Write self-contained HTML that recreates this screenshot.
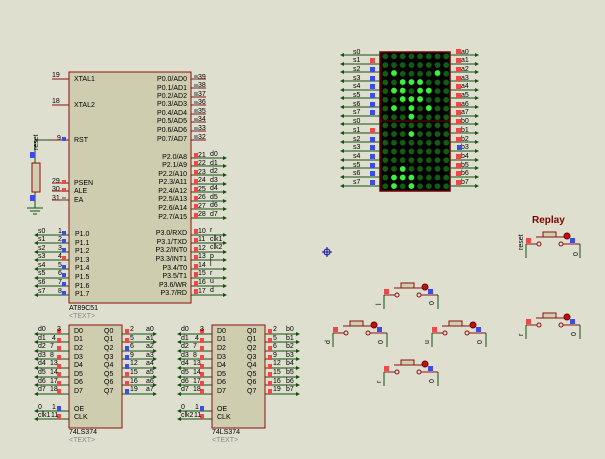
<!DOCTYPE html>
<html><head><meta charset="utf-8"><style>
html,body{margin:0;padding:0;background:#dfdfcf;}
svg{display:block;font-family:"Liberation Sans",sans-serif;}
.t{font-size:7px;fill:#000;}
.g{stroke:#105010;stroke-width:1;fill:none}
.a line{stroke:#105010;stroke-width:1;marker-end:url(#ar)}
.p{stroke:#8b1010;stroke-width:1;fill:none}
.rs{fill:#f04848}.bs{fill:#3c4ce8}.gs{fill:#909090}
</style></head><body>
<svg width="605" height="459" viewBox="0 0 605 459" xmlns="http://www.w3.org/2000/svg">
<defs>
<marker id="ar" markerWidth="4" markerHeight="4" refX="3" refY="2" orient="auto" markerUnits="userSpaceOnUse"><path d="M0,0L4,2L0,4z" fill="#105010"/></marker>
<g id="btn">
<rect x="-7" y="-12" width="13" height="5" fill="#d0cdb0" stroke="#8b1010"/>
<line x1="-14" y1="-7" x2="14" y2="-7" class="p"/>
<circle cx="-11" cy="0" r="2" fill="#dfdfcf" stroke="#8b1010"/>
<circle cx="11" cy="0" r="2" fill="#dfdfcf" stroke="#8b1010"/>
<line x1="-13" y1="0" x2="-24" y2="0" class="p"/>
<line x1="13" y1="0" x2="30" y2="0" class="p"/>
<line x1="-24" y1="0" x2="-24" y2="14" class="g"/>
<line x1="30" y1="0" x2="30" y2="14" class="g"/>
<circle cx="17" cy="-8" r="3" fill="#c01010" stroke="#700000"/>
<rect x="-24" y="-6" width="5" height="5" class="rs"/>
<rect x="20" y="-6" width="5" height="5" class="bs"/>
</g>
<pattern id="dp" x="381" y="52" width="8.7" height="8.7" patternUnits="userSpaceOnUse"><circle cx="4.3" cy="4.3" r="2.9" fill="#145c14"/></pattern>
<pattern id="dp2" x="381" y="121" width="8.7" height="8.7" patternUnits="userSpaceOnUse"><circle cx="4.3" cy="4.3" r="2.9" fill="#145c14"/></pattern>
</defs>

<!-- MCU -->
<rect x="69" y="72" width="122" height="231" fill="#cfcdb0" stroke="#8b1010"/>
<g class="t">
<text x="74" y="81">XTAL1</text><text x="74" y="107">XTAL2</text><text x="74" y="142">RST</text>
<text x="74" y="185">PSEN</text><text x="74" y="193">ALE</text><text x="74" y="202">EA</text>
<text x="75" y="236">P1.0</text><text x="75" y="245">P1.1</text><text x="75" y="253">P1.2</text><text x="75" y="262">P1.3</text><text x="75" y="270">P1.4</text><text x="75" y="279">P1.5</text><text x="75" y="288">P1.6</text><text x="75" y="296">P1.7</text>
<text x="52" y="77">19</text><text x="52" y="103">18</text><text x="57" y="140">9</text><text x="52" y="183">29</text><text x="52" y="191">30</text><text x="52" y="200">31</text>
<text x="58" y="233">1</text><text x="58" y="241">2</text><text x="58" y="250">3</text><text x="58" y="258">4</text><text x="58" y="267">5</text><text x="58" y="275">6</text><text x="58" y="284">7</text><text x="58" y="293">8</text>
<text x="38" y="233">s0</text><text x="38" y="241">s1</text><text x="38" y="250">s2</text><text x="38" y="258">s3</text><text x="38" y="267">s4</text><text x="38" y="275">s5</text><text x="38" y="284">s6</text><text x="38" y="293">s7</text>
<g text-anchor="end">
<text x="187" y="81">P0.0/AD0</text><text x="187" y="90">P0.1/AD1</text><text x="187" y="98">P0.2/AD2</text><text x="187" y="106">P0.3/AD3</text><text x="187" y="115">P0.4/AD4</text><text x="187" y="123">P0.5/AD5</text><text x="187" y="132">P0.6/AD6</text><text x="187" y="141">P0.7/AD7</text>
<text x="187" y="159">P2.0/A8</text><text x="187" y="167">P2.1/A9</text><text x="187" y="176">P2.2/A10</text><text x="187" y="184">P2.3/A11</text><text x="187" y="193">P2.4/A12</text><text x="187" y="201">P2.5/A13</text><text x="187" y="210">P2.6/A14</text><text x="187" y="219">P2.7/A15</text>
<text x="187" y="235">P3.0/RXD</text><text x="187" y="244">P3.1/TXD</text><text x="187" y="252">P3.2/INT0</text><text x="187" y="261">P3.3/INT1</text><text x="187" y="270">P3.4/T0</text><text x="187" y="278">P3.5/T1</text><text x="187" y="287">P3.6/WR</text><text x="187" y="295">P3.7/RD</text>
</g>
<text x="198" y="79">39</text><text x="198" y="87">38</text><text x="198" y="96">37</text><text x="198" y="104">36</text><text x="198" y="113">35</text><text x="198" y="121">34</text><text x="198" y="130">33</text><text x="198" y="139">32</text>
<text x="198" y="157">21</text><text x="198" y="165">22</text><text x="198" y="174">23</text><text x="198" y="182">24</text><text x="198" y="191">25</text><text x="198" y="199">26</text><text x="198" y="208">27</text><text x="198" y="216">28</text>
<text x="210" y="156">d0</text><text x="210" y="165">d1</text><text x="210" y="173">d2</text><text x="210" y="182">d3</text><text x="210" y="190">d4</text><text x="210" y="199">d5</text><text x="210" y="207">d6</text><text x="210" y="216">d7</text>
<text x="198" y="233">10</text><text x="198" y="241">11</text><text x="198" y="250">12</text><text x="198" y="258">13</text><text x="198" y="267">14</text><text x="198" y="275">15</text><text x="198" y="284">16</text><text x="198" y="293">17</text>
<text x="210" y="232">r</text><text x="210" y="241">clk1</text><text x="210" y="249">clk2</text><text x="210" y="258">p</text><text x="210" y="266">l</text><text x="210" y="275">r</text><text x="210" y="283">u</text><text x="210" y="292">d</text>
<text x="69" y="310">AT89C51</text><text x="69" y="318" fill="#888">&lt;TEXT&gt;</text>
</g>
<g class="p">
<path d="M52 79H69M52 105H69M52 183H69M52 191H69M52 200H69M52 140H69"/>
<path d="M191 79H206M191 88H206M191 97H206M191 105H206M191 114H206M191 122H206M191 131H206M191 140H206"/>
</g>
<g class="g">
<path d="M35 140H52"/><path d="M35 140V163M35 192V208M27 208H43M30 211H40M33 214H37"/>
</g>
<g class="a">
<line x1="69" y1="235" x2="35" y2="235"/><line x1="69" y1="243" x2="35" y2="243"/><line x1="69" y1="252" x2="35" y2="252"/><line x1="69" y1="260" x2="35" y2="260"/><line x1="69" y1="269" x2="35" y2="269"/><line x1="69" y1="278" x2="35" y2="278"/><line x1="69" y1="286" x2="35" y2="286"/><line x1="69" y1="295" x2="35" y2="295"/>
<line x1="191" y1="158" x2="226" y2="158"/><line x1="191" y1="166" x2="226" y2="166"/><line x1="191" y1="175" x2="226" y2="175"/><line x1="191" y1="184" x2="226" y2="184"/><line x1="191" y1="192" x2="226" y2="192"/><line x1="191" y1="201" x2="226" y2="201"/><line x1="191" y1="209" x2="226" y2="209"/><line x1="191" y1="218" x2="226" y2="218"/>
<line x1="191" y1="235" x2="226" y2="235"/><line x1="191" y1="243" x2="226" y2="243"/><line x1="191" y1="252" x2="226" y2="252"/><line x1="191" y1="260" x2="226" y2="260"/><line x1="191" y1="269" x2="226" y2="269"/><line x1="191" y1="278" x2="226" y2="278"/><line x1="191" y1="286" x2="226" y2="286"/><line x1="191" y1="295" x2="226" y2="295"/>
</g>
<rect x="32" y="163" width="8" height="29" fill="#d0cdb0" stroke="#8b1010"/>
<text x="38" y="150" class="t" transform="rotate(-90 38 150)">reset</text>
<rect x="30" y="152" width="5" height="6" class="bs"/><rect x="30" y="195" width="5" height="6" class="bs"/>
<g class="bs"><rect x="62" y="137" width="4" height="4"/><rect x="62" y="231" width="4" height="4"/><rect x="62" y="239" width="4" height="4"/><rect x="62" y="248" width="4" height="4"/><rect x="62" y="265" width="4" height="4"/><rect x="62" y="273" width="4" height="4"/><rect x="62" y="282" width="4" height="4"/><rect x="62" y="291" width="4" height="4"/></g>
<rect x="62" y="256" width="4" height="4" class="rs"/><rect x="62" y="180" width="4" height="4" class="rs"/><rect x="62" y="188" width="4" height="4" class="rs"/><rect x="62" y="197" width="4" height="4" class="gs"/>
<g class="gs"><rect x="194" y="75" width="4" height="5"/><rect x="194" y="84" width="4" height="5"/><rect x="194" y="92" width="4" height="5"/><rect x="194" y="101" width="4" height="5"/><rect x="194" y="109" width="4" height="5"/><rect x="194" y="118" width="4" height="5"/><rect x="194" y="127" width="4" height="5"/><rect x="194" y="135" width="4" height="5"/></g>
<g class="rs"><rect x="194" y="153" width="4" height="5"/><rect x="194" y="161" width="4" height="5"/><rect x="194" y="170" width="4" height="5"/><rect x="194" y="179" width="4" height="5"/><rect x="194" y="187" width="4" height="5"/><rect x="194" y="196" width="4" height="5"/><rect x="194" y="204" width="4" height="5"/><rect x="194" y="213" width="4" height="5"/>
<rect x="194" y="229" width="4" height="5"/><rect x="194" y="238" width="4" height="5"/><rect x="194" y="247" width="4" height="5"/><rect x="194" y="255" width="4" height="5"/><rect x="194" y="264" width="4" height="5"/><rect x="194" y="272" width="4" height="5"/><rect x="194" y="281" width="4" height="5"/><rect x="194" y="289" width="4" height="5"/></g>

<!-- Matrix -->
<rect x="380" y="52" width="70" height="139" fill="#000" stroke="#700000" stroke-width="1.5"/>
<rect x="381" y="52" width="69" height="69" fill="url(#dp)"/>
<rect x="381" y="121" width="69" height="69" fill="url(#dp2)"/>
<line x1="380" y1="121" x2="450" y2="121" stroke="#700000"/>
<g fill="#3cf03c">
<circle cx="394" cy="73" r="2.9"/><circle cx="437.5" cy="73" r="2.9"/>
<circle cx="402.7" cy="82" r="2.9"/><circle cx="411.4" cy="82" r="2.9"/><circle cx="420.1" cy="82" r="2.9"/>
<circle cx="394" cy="90.5" r="2.9"/><circle cx="402.7" cy="90.5" r="2.9"/><circle cx="420.1" cy="90.5" r="2.9"/><circle cx="428.8" cy="90.5" r="2.9"/>
<circle cx="402.7" cy="99" r="2.9"/><circle cx="411.4" cy="99" r="2.9"/><circle cx="420.1" cy="99" r="2.9"/>
<circle cx="394" cy="108" r="2.9"/><circle cx="411.4" cy="108" r="2.9"/><circle cx="428.8" cy="108" r="2.9"/>
<circle cx="411.4" cy="116.5" r="2.9"/>
<circle cx="411.4" cy="134" r="2.9"/>
<circle cx="402.7" cy="169" r="2.9"/>
<circle cx="394" cy="177.5" r="2.9"/><circle cx="402.7" cy="177.5" r="2.9"/><circle cx="411.4" cy="177.5" r="2.9"/>
<circle cx="394" cy="186" r="2.9"/><circle cx="411.4" cy="186" r="2.9"/>
</g>
<g class="a">
<line x1="380" y1="55" x2="341" y2="55"/><line x1="380" y1="64" x2="341" y2="64"/><line x1="380" y1="72" x2="341" y2="72"/><line x1="380" y1="81" x2="341" y2="81"/><line x1="380" y1="90" x2="341" y2="90"/><line x1="380" y1="98" x2="341" y2="98"/><line x1="380" y1="107" x2="341" y2="107"/><line x1="380" y1="116" x2="341" y2="116"/>
<line x1="380" y1="124" x2="341" y2="124"/><line x1="380" y1="133" x2="341" y2="133"/><line x1="380" y1="142" x2="341" y2="142"/><line x1="380" y1="151" x2="341" y2="151"/><line x1="380" y1="160" x2="341" y2="160"/><line x1="380" y1="168" x2="341" y2="168"/><line x1="380" y1="177" x2="341" y2="177"/><line x1="380" y1="186" x2="341" y2="186"/>
<line x1="450" y1="55" x2="478" y2="55"/><line x1="450" y1="64" x2="478" y2="64"/><line x1="450" y1="72" x2="478" y2="72"/><line x1="450" y1="81" x2="478" y2="81"/><line x1="450" y1="90" x2="478" y2="90"/><line x1="450" y1="98" x2="478" y2="98"/><line x1="450" y1="107" x2="478" y2="107"/><line x1="450" y1="116" x2="478" y2="116"/>
<line x1="450" y1="124" x2="478" y2="124"/><line x1="450" y1="133" x2="478" y2="133"/><line x1="450" y1="142" x2="478" y2="142"/><line x1="450" y1="151" x2="478" y2="151"/><line x1="450" y1="160" x2="478" y2="160"/><line x1="450" y1="168" x2="478" y2="168"/><line x1="450" y1="177" x2="478" y2="177"/><line x1="450" y1="186" x2="478" y2="186"/>
</g>
<g class="t">
<text x="353" y="54">s0</text><text x="353" y="62">s1</text><text x="353" y="71">s2</text><text x="353" y="80">s3</text><text x="353" y="88">s4</text><text x="353" y="97">s5</text><text x="353" y="106">s6</text><text x="353" y="114">s7</text>
<text x="353" y="123">s0</text><text x="353" y="132">s1</text><text x="353" y="141">s2</text><text x="353" y="149">s3</text><text x="353" y="158">s4</text><text x="353" y="167">s5</text><text x="353" y="175">s6</text><text x="353" y="184">s7</text>
<text x="461" y="54">a0</text><text x="461" y="62">a1</text><text x="461" y="71">a2</text><text x="461" y="80">a3</text><text x="461" y="88">a4</text><text x="461" y="97">a5</text><text x="461" y="106">a6</text><text x="461" y="114">a7</text>
<text x="461" y="123">b0</text><text x="461" y="132">b1</text><text x="461" y="141">b2</text><text x="461" y="149">b3</text><text x="461" y="158">b4</text><text x="461" y="167">b5</text><text x="461" y="175">b6</text><text x="461" y="184">b7</text>
</g>
<g class="bs"><rect x="370" y="67" width="5" height="5"/><rect x="370" y="76" width="5" height="5"/><rect x="370" y="84" width="5" height="5"/><rect x="370" y="93" width="5" height="5"/><rect x="370" y="102" width="5" height="5"/><rect x="370" y="110" width="5" height="5"/>
<rect x="370" y="137" width="5" height="5"/><rect x="370" y="145" width="5" height="5"/><rect x="370" y="154" width="5" height="5"/><rect x="370" y="163" width="5" height="5"/><rect x="370" y="171" width="5" height="5"/><rect x="370" y="180" width="5" height="5"/><rect x="457" y="145" width="5" height="5"/></g>
<g class="rs"><rect x="370" y="58" width="5" height="5"/><rect x="370" y="128" width="5" height="5"/>
<rect x="456" y="49" width="5" height="5"/><rect x="456" y="58" width="5" height="5"/><rect x="456" y="67" width="5" height="5"/><rect x="456" y="76" width="5" height="5"/><rect x="456" y="84" width="5" height="5"/><rect x="456" y="93" width="5" height="5"/><rect x="456" y="102" width="5" height="5"/><rect x="456" y="110" width="5" height="5"/>
<rect x="456" y="119" width="5" height="5"/><rect x="456" y="128" width="5" height="5"/><rect x="456" y="137" width="5" height="5"/><rect x="456" y="154" width="5" height="5"/><rect x="456" y="163" width="5" height="5"/><rect x="456" y="171" width="5" height="5"/><rect x="456" y="180" width="5" height="5"/></g>

<!-- Latches -->
<g id="latch">
<rect x="69" y="325" width="53" height="103" fill="#cfcdb0" stroke="#8b1010"/>
<g class="a">
<line x1="69" y1="334" x2="35" y2="334"/><line x1="69" y1="342" x2="35" y2="342"/><line x1="69" y1="351" x2="35" y2="351"/><line x1="69" y1="359" x2="35" y2="359"/><line x1="69" y1="368" x2="35" y2="368"/><line x1="69" y1="377" x2="35" y2="377"/><line x1="69" y1="385" x2="35" y2="385"/><line x1="69" y1="394" x2="35" y2="394"/><line x1="69" y1="411" x2="35" y2="411"/><line x1="69" y1="419" x2="35" y2="419"/>
<line x1="122" y1="334" x2="156" y2="334"/><line x1="122" y1="342" x2="156" y2="342"/><line x1="122" y1="351" x2="156" y2="351"/><line x1="122" y1="359" x2="156" y2="359"/><line x1="122" y1="368" x2="156" y2="368"/><line x1="122" y1="377" x2="156" y2="377"/><line x1="122" y1="385" x2="156" y2="385"/><line x1="122" y1="394" x2="156" y2="394"/>
</g>
<g class="rs"><rect x="57" y="329" width="4" height="5"/><rect x="57" y="338" width="4" height="5"/><rect x="57" y="346" width="4" height="5"/><rect x="57" y="355" width="4" height="5"/><rect x="57" y="364" width="4" height="5"/><rect x="57" y="372" width="4" height="5"/><rect x="57" y="381" width="4" height="5"/><rect x="57" y="389" width="4" height="5"/><rect x="57" y="414" width="4" height="5"/>
<rect x="125" y="329" width="4" height="5"/><rect x="125" y="338" width="4" height="5"/><rect x="125" y="372" width="4" height="5"/><rect x="125" y="381" width="4" height="5"/></g>
<rect x="57" y="406" width="4" height="5" class="bs"/>
</g>
<g class="bs"><rect x="125" y="346" width="4" height="5"/><rect x="125" y="355" width="4" height="5"/><rect x="125" y="364" width="4" height="5"/><rect x="125" y="389" width="4" height="5"/></g>
<use href="#latch" x="143"/>
<g class="rs"><rect x="268" y="346" width="4" height="5"/><rect x="268" y="355" width="4" height="5"/><rect x="268" y="364" width="4" height="5"/><rect x="268" y="389" width="4" height="5"/></g>
<g class="t">
<text x="74" y="333">D0</text><text x="74" y="341">D1</text><text x="74" y="350">D2</text><text x="74" y="359">D3</text><text x="74" y="367">D4</text><text x="74" y="376">D5</text><text x="74" y="384">D6</text><text x="74" y="393">D7</text><text x="74" y="411">OE</text><text x="74" y="419">CLK</text>
<text x="104" y="333">Q0</text><text x="104" y="341">Q1</text><text x="104" y="350">Q2</text><text x="104" y="359">Q3</text><text x="104" y="367">Q4</text><text x="104" y="376">Q5</text><text x="104" y="384">Q6</text><text x="104" y="393">Q7</text>
<text x="38" y="331">d0</text><text x="38" y="340">d1</text><text x="38" y="348">d2</text><text x="38" y="357">d3</text><text x="38" y="365">d4</text><text x="38" y="374">d5</text><text x="38" y="383">d6</text><text x="38" y="391">d7</text><text x="38" y="409">0</text><text x="38" y="417">clk1</text>
<text x="57" y="331">3</text><text x="52" y="340">4</text><text x="50" y="348">7</text><text x="50" y="357">8</text><text x="50" y="365">13</text><text x="50" y="374">14</text><text x="50" y="383">17</text><text x="50" y="391">18</text><text x="52" y="409">1</text><text x="51" y="417">11</text>
<text x="130" y="331">2</text><text x="130" y="340">5</text><text x="130" y="348">6</text><text x="130" y="357">9</text><text x="130" y="365">12</text><text x="130" y="374">15</text><text x="130" y="383">16</text><text x="130" y="391">19</text>
<text x="146" y="331">a0</text><text x="146" y="340">a1</text><text x="146" y="348">a2</text><text x="146" y="357">a3</text><text x="146" y="365">a4</text><text x="146" y="374">a5</text><text x="146" y="383">a6</text><text x="146" y="391">a7</text>
<text x="69" y="434">74LS374</text><text x="69" y="442" fill="#888">&lt;TEXT&gt;</text>
<text x="217" y="333">D0</text><text x="217" y="341">D1</text><text x="217" y="350">D2</text><text x="217" y="359">D3</text><text x="217" y="367">D4</text><text x="217" y="376">D5</text><text x="217" y="384">D6</text><text x="217" y="393">D7</text><text x="217" y="411">OE</text><text x="217" y="419">CLK</text>
<text x="247" y="333">Q0</text><text x="247" y="341">Q1</text><text x="247" y="350">Q2</text><text x="247" y="359">Q3</text><text x="247" y="367">Q4</text><text x="247" y="376">Q5</text><text x="247" y="384">Q6</text><text x="247" y="393">Q7</text>
<text x="181" y="331">d0</text><text x="181" y="340">d1</text><text x="181" y="348">d2</text><text x="181" y="357">d3</text><text x="181" y="365">d4</text><text x="181" y="374">d5</text><text x="181" y="383">d6</text><text x="181" y="391">d7</text><text x="181" y="409">0</text><text x="181" y="417">clk2</text>
<text x="200" y="331">3</text><text x="195" y="340">4</text><text x="193" y="348">7</text><text x="193" y="357">8</text><text x="193" y="365">13</text><text x="193" y="374">14</text><text x="193" y="383">17</text><text x="193" y="391">18</text><text x="195" y="409">1</text><text x="194" y="417">11</text>
<text x="273" y="331">2</text><text x="273" y="340">5</text><text x="273" y="348">6</text><text x="273" y="357">9</text><text x="273" y="365">12</text><text x="273" y="374">15</text><text x="273" y="383">16</text><text x="273" y="391">19</text>
<text x="286" y="331">b0</text><text x="286" y="340">b1</text><text x="286" y="348">b2</text><text x="286" y="357">b3</text><text x="286" y="365">b4</text><text x="286" y="374">b5</text><text x="286" y="383">b6</text><text x="286" y="391">b7</text>
<text x="212" y="434">74LS374</text><text x="212" y="442" fill="#888">&lt;TEXT&gt;</text>
</g>

<!-- Buttons -->
<use href="#btn" x="550" y="244"/>
<use href="#btn" x="408" y="295"/>
<use href="#btn" x="357" y="333"/>
<use href="#btn" x="456" y="333"/>
<use href="#btn" x="408" y="372"/>
<use href="#btn" x="550" y="325"/>
<text x="532" y="223" font-size="10" font-weight="bold" fill="#800000">Replay</text>
<g class="t">
<text x="523" y="250" transform="rotate(-90 523 250)">reset</text><text x="578" y="256" transform="rotate(-90 578 256)">0</text>
<text x="381" y="305" transform="rotate(-90 381 305)">l</text><text x="434" y="305" transform="rotate(-90 434 305)">0</text>
<text x="330" y="344" transform="rotate(-90 330 344)">d</text><text x="383" y="344" transform="rotate(-90 383 344)">0</text>
<text x="429" y="344" transform="rotate(-90 429 344)">u</text><text x="482" y="344" transform="rotate(-90 482 344)">0</text>
<text x="381" y="383" transform="rotate(-90 381 383)">r</text><text x="434" y="383" transform="rotate(-90 434 383)">0</text>
<text x="523" y="336" transform="rotate(-90 523 336)">r</text><text x="576" y="336" transform="rotate(-90 576 336)">0</text>
</g>
<g stroke="#1010a0" fill="none"><circle cx="327" cy="252" r="3"/><path d="M322 252H332M327 247V257"/></g>
</svg>
</body></html>
